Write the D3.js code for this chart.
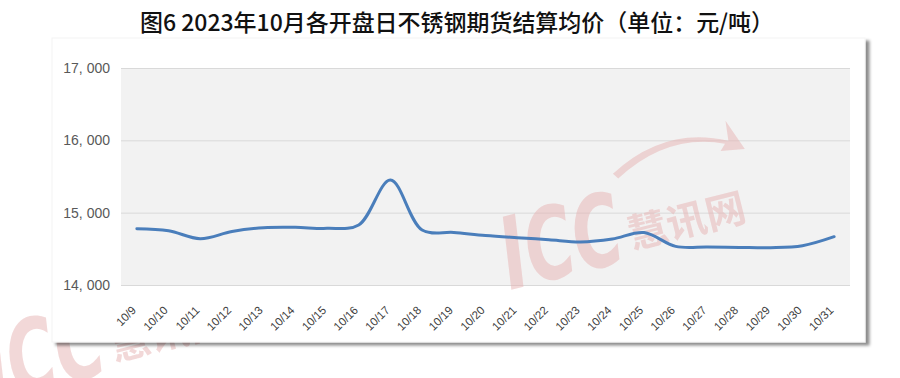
<!DOCTYPE html>
<html>
<head>
<meta charset="utf-8">
<script src="https://cdn.jsdelivr.net/npm/d3@7"></script>
<style>
  body { margin: 0; background: #fff; }
  svg { display: block; }
</style>
</head>
<body>
<div class="canvas"></div>
<script>
// Data
const dates = ["10/9", "10/10", "10/11", "10/12", "10/13", "10/14", "10/15", "10/16",
  "10/17", "10/18", "10/19", "10/20", "10/21", "10/22", "10/23", "10/24", "10/25",
  "10/26", "10/27", "10/28", "10/29", "10/30", "10/31"];
const prices = [14778, 14750, 14640, 14740, 14792, 14797, 14783, 14830,
  15450, 14760, 14727, 14685, 14654, 14626, 14596, 14636, 14725,
  14534, 14525, 14520, 14516, 14543, 14668];
const yTicks = [14000, 15000, 16000, 17000];
const title = "图6 2023年10月各开盘日不锈钢期货结算均价（单位：元/吨）";

const dims = { width: 900, height: 378 };
const plot = { left: 121, right: 850, top: 68, bottom: 285 };

const svg = d3.select(".canvas")
  .append("svg")
  .attr("width", dims.width)
  .attr("height", dims.height);

// shadow filter for the card
const defs = svg.append("defs");
const f = defs.append("filter").attr("id", "shadow")
  .attr("x", "-5%").attr("y", "-5%").attr("width", "115%").attr("height", "120%");
f.append("feDropShadow").attr("dx", 4).attr("dy", 3).attr("stdDeviation", 1.6)
  .attr("flood-color", "#000").attr("flood-opacity", 0.45);

// watermark
const mark = (g, x, y) => {
  const w = g.append("g").attr("transform", `translate(${x},${y}) rotate(-14)`)
    .attr("fill", "#e7b3b3").attr("opacity", 0.5);
  w.append("text").attr("x", 0).attr("y", 0)
    .attr("font-family", "DejaVu Sans, sans-serif")
    .attr("font-weight", "bold").attr("font-style", "italic")
    .attr("font-size", 100).attr("textLength", 122).attr("lengthAdjust", "spacingAndGlyphs")
    .text("ICC");
  w.append("text").attr("x", 128).attr("y", -10)
    .attr("font-family", "Noto Sans CJK SC, sans-serif")
    .attr("font-weight", "bold").attr("font-size", 40)
    .text("慧讯网");
  w.append("path")
    .attr("d", "M128,-88 Q190,-122 248,-92 L250,-112 L262,-80 L238,-84 L244,-90 Q190,-114 132,-82 Z");
};
mark(svg, -8, 402);

// card
svg.append("rect")
  .attr("x", 52).attr("y", 38)
  .attr("width", 813).attr("height", 304)
  .attr("fill", "#fff")
  .attr("stroke", "#f4f4f4")
  .attr("filter", "url(#shadow)");

// title
svg.append("text")
  .attr("x", 457).attr("y", 31)
  .attr("text-anchor", "middle")
  .attr("font-family", "Noto Sans CJK SC, sans-serif")
  .attr("font-weight", 500)
  .attr("font-size", 23)
  .attr("textLength", 634)
  .attr("lengthAdjust", "spacingAndGlyphs")
  .attr("fill", "#111")
  .text(title);

// scales
const x = d3.scaleBand().domain(dates).range([plot.left, plot.right]).padding(0);
const y = d3.scaleLinear().domain([14000, 17000]).range([plot.bottom, plot.top]);

// plot background
svg.append("rect")
  .attr("x", plot.left).attr("y", plot.top)
  .attr("width", plot.right - plot.left).attr("height", plot.bottom - plot.top)
  .attr("fill", "#f2f2f2");

// gridlines + y labels
const yAxis = svg.append("g")
  .attr("transform", `translate(${plot.left},0)`)
  .call(d3.axisLeft(y).tickValues(yTicks)
    .tickSize(-(plot.right - plot.left))
    .tickPadding(11)
    .tickFormat((d) => d3.format(",")(d).replace(",", ", ")));
yAxis.select(".domain").remove();
yAxis.selectAll("line").attr("stroke", "#d9d9d9").attr("stroke-width", 1);
yAxis.selectAll("text")
  .attr("fill", "#595959")
  .attr("font-family", "Liberation Sans, Arial, sans-serif")
  .attr("font-size", 14);

// x labels
const xAxis = svg.append("g")
  .attr("transform", `translate(0,${plot.bottom})`)
  .call(d3.axisBottom(x).tickSize(0).tickPadding(0));
xAxis.select(".domain").remove();
xAxis.selectAll("text")
  .attr("text-anchor", "end")
  .attr("fill", "#404040")
  .attr("font-family", "Liberation Sans, Arial, sans-serif")
  .attr("font-size", 11.5)
  .attr("dy", 0)
  .attr("transform", "translate(0,26) rotate(-45)");

// watermark under the line
mark(svg, 510, 290);

// line
const line = d3.line()
  .x((d, i) => x(dates[i]) + x.bandwidth() / 2)
  .y((d) => y(d))
  .curve(d3.curveCatmullRom.alpha(0.5));

svg.append("path")
  .datum(prices)
  .attr("d", line)
  .attr("fill", "none")
  .attr("stroke", "#4a7ebb")
  .attr("stroke-width", 3)
  .attr("stroke-linejoin", "round")
  .attr("stroke-linecap", "round");
</script>
</body>
</html>
